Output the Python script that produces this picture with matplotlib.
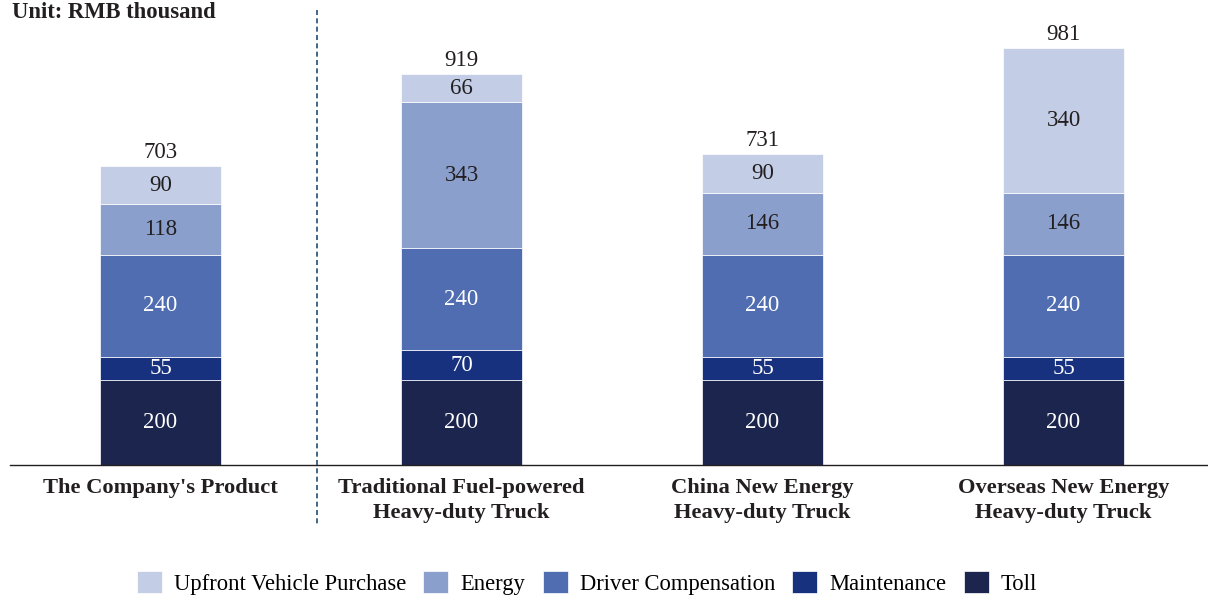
import matplotlib.pyplot as plt
import matplotlib.transforms as mtransforms
from matplotlib.lines import Line2D
import numpy as np

plt.rcParams['font.family'] = ['Liberation Serif', 'DejaVu Serif']

# =========================
# 数据
# =========================
categories = [
    "The Company's Product",
    "Traditional Fuel-powered\nHeavy-duty Truck",
    "China New Energy\nHeavy-duty Truck",
    "Overseas New Energy\nHeavy-duty Truck",
]
toll = [200, 200, 200, 200]
maintenance = [55, 70, 55, 55]
driver = [240, 240, 240, 240]
energy = [118, 343, 146, 146]
upfront = [90, 66, 90, 340]
totals = [703, 919, 731, 981]

series = [
    ("Toll", toll, '#1B254D', 'white'),
    ("Maintenance", maintenance, '#17317F', 'white'),
    ("Driver Compensation", driver, '#4F6DB0', 'white'),
    ("Energy", energy, '#8A9FCB', '#231F20'),
    ("Upfront Vehicle Purchase", upfront, '#C3CDE6', '#231F20'),
]

# =========================
# 画图
# =========================
fig = plt.figure(figsize=(12.08, 5.95), dpi=100)
ax = fig.add_axes([10 / 1208, 1 - 465 / 595, 1 - 10 / 1208, 425 / 595])

x = np.arange(len(categories))
bottom = np.zeros(len(categories))
handles = {}
for name, vals, color, tcolor in series:
    bars = ax.bar(x, vals, width=0.4, bottom=bottom, color=color,
                  edgecolor='white', linewidth=0.5, label=name)
    handles[name] = bars
    for xi, b, v in zip(x, bottom, vals):
        ax.text(xi, b + v / 2, str(v), ha='center', va='center',
                color=tcolor, fontsize=16.5)
    bottom += np.array(vals)

# 总计
for xi, t in zip(x, totals):
    ax.text(xi, t + 7, str(t), ha='center', va='bottom',
            color='#231F20', fontsize=16.5)

ax.set_xlim(-0.5, 3.48)
ax.set_ylim(0, 1000)
ax.set_xticks(x)
ax.set_xticklabels(categories, fontsize=16.2, fontweight='bold', color='#231F20')
for lbl in ax.get_xticklabels():
    lbl.set_linespacing(1.35)
ax.tick_params(axis='x', length=0, pad=9)
ax.set_yticks([])
for s in ['top', 'right', 'left']:
    ax.spines[s].set_visible(False)
ax.spines['bottom'].set_color('#231F20')
ax.spines['bottom'].set_linewidth(1.0)

# 分隔虚线
trans = mtransforms.blended_transform_factory(ax.transData, fig.transFigure)
fig.add_artist(Line2D([0.52, 0.52], [1 - 10 / 595, 1 - 525 / 595],
                      transform=trans, color='#1F4E79', linestyle='--',
                      linewidth=1.2, dashes=(3, 2)))

fig.text(12 / 1208, 1 - 12 / 595, "Unit: RMB thousand", fontsize=16.3,
         fontweight='bold', color='#231F20', va='center', ha='left')

order = ["Upfront Vehicle Purchase", "Energy", "Driver Compensation",
         "Maintenance", "Toll"]
fig.legend([handles[n] for n in order], order, loc='center',
           bbox_to_anchor=(0.486, 1 - 583 / 595), ncol=5, frameon=False,
           fontsize=16.3, handlelength=1.1, handleheight=1.1,
           handletextpad=0.55, columnspacing=0.75)

plt.savefig("out.png", dpi=100)
